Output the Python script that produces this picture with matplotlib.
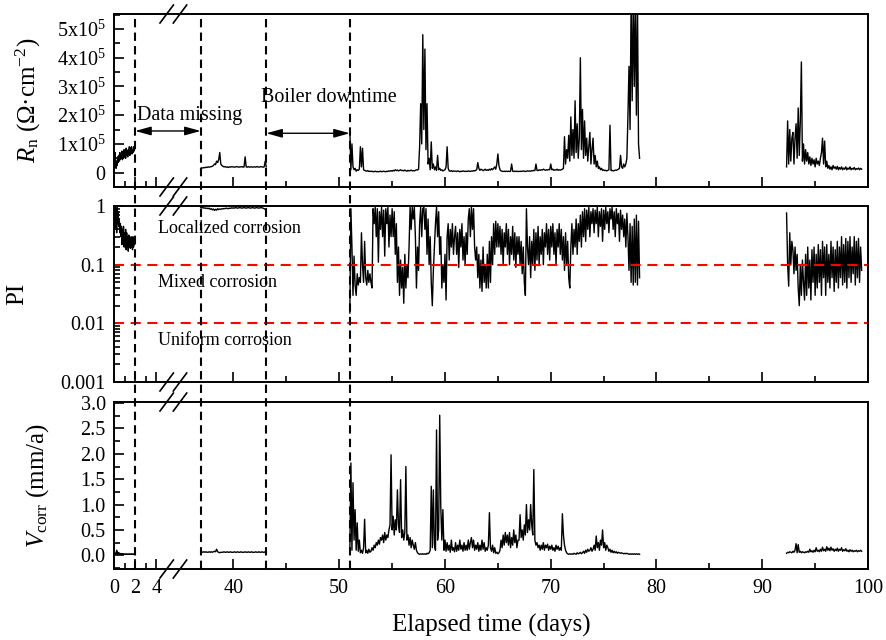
import numpy as np
import matplotlib
matplotlib.use("Agg")
import matplotlib.pyplot as plt
from matplotlib.ticker import FixedLocator, MultipleLocator, FuncFormatter, NullFormatter
from matplotlib.patches import ArrowStyle

plt.rcParams['font.family'] = ['Liberation Serif', 'DejaVu Serif']
plt.rcParams['mathtext.fontset'] = 'custom'
plt.rcParams['mathtext.rm'] = 'Liberation Serif'
plt.rcParams['mathtext.it'] = 'Liberation Serif:italic'

# --- data (days, Rn in 1e5 Ohm cm-2, PI, Vcorr mm/a) ---
# segment A: 0-2 d, step 0.05 d ; B: 36.9-43.1 d ; C: 51.0-78.4 d ; D: 92.3-99.4 d, step 0.1 d
t0_a, step_a = 0.0, 0.05
t0_b, t0_c, t0_d, step = 36.9, 51.0, 92.3, 0.1

rn_a = [0.6, 0.45, 0.7, 0.3, 0.15, 0.4, 0.25, 0.55, 0.35, 0.6,
        0.4, 0.7, 0.45, 0.6, 0.5, 0.75, 0.45, 0.65, 0.5, 0.8,
        0.55, 0.7, 0.5, 0.85, 0.6, 0.75, 0.55, 0.8, 0.65, 0.9,
        0.6, 0.85, 0.7, 0.9, 0.65, 0.8, 0.7, 0.9, 0.75, 0.85, 0.9]
rn_b = [0.15,
        0.17, 0.16, 0.18, 0.17, 0.19, 0.18, 0.2, 0.19, 0.2, 0.21,
        0.22, 0.25, 0.3, 0.28, 0.4, 0.35, 0.45, 0.7, 0.3, 0.25,
        0.22, 0.2, 0.21, 0.19, 0.2, 0.18, 0.2, 0.19, 0.21, 0.2,
        0.2, 0.19, 0.2, 0.21, 0.2, 0.19, 0.2, 0.2, 0.21, 0.19,
        0.2, 0.55, 0.2, 0.19, 0.21, 0.19, 0.2, 0.2, 0.19, 0.2,
        0.2, 0.19, 0.21, 0.2, 0.19, 0.2, 0.21, 0.2, 0.19, 0.2,
        0.4, 0.2]
rn_c = [1.5, 0.1, 1.0, 0.2, 0.1, 0.15, 0.05, 0.1, 0.08, 0.12,
        0.9, 0.2, 0.85, 0.1, 0.08, 0.06, 0.05, 0.07, 0.04, 0.05,
        0.04, 0.05, 0.03, 0.04, 0.05, 0.03, 0.04, 0.03, 0.04, 0.05,
        0.03, 0.04, 0.05, 0.04, 0.03, 0.05, 0.04, 0.06, 0.05, 0.07,
        0.05, 0.08, 0.06, 0.1, 0.07, 0.09, 0.06, 0.08, 0.1, 0.07,
        0.08, 0.06, 0.09, 0.07, 0.05, 0.08, 0.06, 0.07, 0.09, 0.06,
        0.07, 0.06, 0.08, 0.1, 0.09, 0.12, 0.9, 2.4, 1.0, 4.8,
        1.5, 4.3, 0.8, 2.4, 0.3, 0.5, 0.1, 1.07, 0.15, 0.3,
        0.1, 0.2, 0.08, 0.6, 0.1, 0.15, 0.08, 0.1, 0.06, 0.08,
        0.1, 0.2, 0.9, 0.15, 0.06, 0.05, 0.07, 0.04, 0.06, 0.05,
        0.05, 0.04, 0.06, 0.05, 0.03, 0.05, 0.04, 0.06, 0.05, 0.04,
        0.05, 0.04, 0.06, 0.05, 0.04, 0.06, 0.05, 0.07, 0.06, 0.08,
        0.1, 0.35, 0.15, 0.08, 0.12, 0.1, 0.07, 0.09, 0.12, 0.08,
        0.1, 0.08, 0.12, 0.09, 0.14, 0.1, 0.15, 0.2, 0.12, 0.3,
        0.65, 0.25, 0.1, 0.06, 0.05, 0.04, 0.05, 0.04, 0.05, 0.04,
        0.05, 0.04, 0.05, 0.3, 0.05, 0.04, 0.05, 0.04, 0.05, 0.04,
        0.04, 0.05, 0.04, 0.05, 0.06, 0.05, 0.04, 0.05, 0.06, 0.05,
        0.06, 0.05, 0.07, 0.06, 0.08, 0.07, 0.3, 0.08, 0.07, 0.1,
        0.08, 0.1, 0.09, 0.12, 0.1, 0.08, 0.1, 0.09, 0.11, 0.1,
        0.3, 0.1, 0.12, 0.08, 0.1, 0.09, 0.12, 0.08, 0.1, 0.09,
        0.1, 0.12, 0.15, 1.25, 0.3, 0.8, 0.5, 1.3, 0.4, 1.94,
        0.6, 1.5, 0.5, 2.5, 0.7, 1.7, 0.5, 1.2, 4.0, 0.8,
        2.2, 0.5, 1.8, 0.6, 1.2, 0.4, 0.9, 1.4, 0.3, 0.8,
        1.2, 0.3, 0.6, 0.2, 0.4, 0.15, 0.2, 0.1, 0.15, 0.08,
        0.1, 0.07, 0.08, 0.06, 0.08, 0.1, 1.65, 0.07, 0.08, 0.06,
        0.07, 0.09, 0.08, 0.1, 0.12, 0.15, 0.6, 0.2, 0.15, 0.3,
        0.2, 0.3, 0.5, 2.0, 3.7, 1.5, 6.0, 2.5, 6.0, 3.0,
        6.0, 2.0, 6.0, 1.0, 0.5]
rn_d = [0.2, 1.8, 0.3, 1.5, 0.4, 1.2, 1.4,
        0.3, 1.2, 1.7, 0.5, 2.25, 0.6, 1.8, 3.85, 0.4, 1.0,
        0.3, 0.8, 0.4, 0.7, 0.3, 0.55, 0.25, 0.5, 0.3, 0.45,
        0.2, 0.5, 0.3, 0.4, 0.25, 0.5, 0.7, 1.2, 0.3, 1.1,
        0.2, 0.4, 0.15, 0.25, 0.12, 0.2, 0.1, 0.25, 0.15, 0.2,
        0.12, 0.22, 0.1, 0.18, 0.12, 0.2, 0.1, 0.16, 0.12, 0.2,
        0.1, 0.16, 0.12, 0.2, 0.1, 0.15, 0.12, 0.18, 0.1, 0.14,
        0.12, 0.16, 0.1, 0.15, 0.12]

pi_a = [0.95, 0.6, 0.98, 0.4, 0.9, 0.35, 0.95, 0.5, 0.8, 0.45,
        0.6, 0.35, 0.5, 0.3, 0.45, 0.22, 0.4, 0.25, 0.45, 0.2,
        0.35, 0.2, 0.4, 0.18, 0.35, 0.2, 0.3, 0.17, 0.32, 0.2,
        0.3, 0.19, 0.28, 0.2, 0.3, 0.18, 0.27, 0.2, 0.3, 0.22, 0.25]
pi_b = [0.95,
        0.93, 0.94, 0.92, 0.93, 0.91, 0.92, 0.9, 0.92, 0.88, 0.9,
        0.86, 0.89, 0.84, 0.88, 0.85, 0.9, 0.87, 0.89, 0.88, 0.9,
        0.89, 0.91, 0.9, 0.92, 0.91, 0.9, 0.92, 0.91, 0.93, 0.92,
        0.93, 0.92, 0.94, 0.93, 0.92, 0.93, 0.94, 0.93, 0.92, 0.93,
        0.94, 0.93, 0.92, 0.93, 0.94, 0.93, 0.92, 0.93, 0.94, 0.93,
        0.92, 0.93, 0.94, 0.93, 0.92, 0.93, 0.94, 0.93, 0.92, 0.9,
        0.88, 0.9]
pi_c = [0.015, 0.9, 0.2, 0.03, 0.14, 0.045, 0.03, 0.07, 0.045, 0.06,
        0.05, 0.35, 0.1, 0.05, 0.25, 0.06, 0.045, 0.08, 0.05, 0.07,
        0.05, 0.04, 0.9, 0.5, 0.95, 0.3, 0.9, 0.11, 0.8, 0.4,
        0.95, 0.3, 0.85, 0.14, 0.9, 0.5, 0.95, 0.2, 0.7, 0.3,
        0.9, 0.3, 0.8, 0.15, 0.5, 0.05, 0.2, 0.03, 0.12, 0.04,
        0.09, 0.022, 0.15, 0.04, 0.1, 0.06, 0.2, 0.95, 0.4, 0.95,
        0.6, 0.95, 0.3, 0.04, 0.2, 0.08, 0.5, 0.95, 0.3, 0.9,
        0.95, 0.4, 0.9, 0.15, 0.6, 0.1, 0.3, 0.05, 0.02, 0.08,
        0.2, 0.5, 0.95, 0.3, 0.8, 0.15, 0.3, 0.04, 0.1, 0.05,
        0.15, 0.025, 0.3, 0.5, 0.12, 0.4, 0.2, 0.5, 0.15, 0.3,
        0.45, 0.15, 0.35, 0.09, 0.4, 0.2, 0.5, 0.12, 0.3, 0.1,
        0.35, 0.15, 0.6, 0.9, 0.3, 0.95, 0.4, 0.9, 0.2, 0.12,
        0.2, 0.06, 0.15, 0.04, 0.12, 0.035, 0.2, 0.05, 0.1, 0.04,
        0.15, 0.04, 0.25, 0.05, 0.3, 0.1, 0.5, 0.15, 0.55, 0.2,
        0.5, 0.2, 0.45, 0.15, 0.4, 0.1, 0.35, 0.2, 0.5, 0.15,
        0.4, 0.1, 0.3, 0.15, 0.45, 0.12, 0.35, 0.09, 0.3, 0.15,
        0.3, 0.1, 0.25, 0.07, 0.2, 0.05, 0.03, 0.9, 0.2, 0.1,
        0.3, 0.06, 0.25, 0.1, 0.4, 0.08, 0.35, 0.12, 0.45, 0.1,
        0.3, 0.15, 0.4, 0.1, 0.35, 0.2, 0.5, 0.15, 0.4, 0.12,
        0.45, 0.2, 0.5, 0.15, 0.35, 0.1, 0.4, 0.2, 0.5, 0.15,
        0.4, 0.12, 0.3, 0.08, 0.35, 0.1, 0.25, 0.06, 0.04, 0.2,
        0.5, 0.15, 0.4, 0.2, 0.6, 0.15, 0.5, 0.25, 0.7, 0.2,
        0.8, 0.3, 0.9, 0.25, 0.85, 0.4, 0.95, 0.3, 0.8, 0.5,
        0.9, 0.35, 0.85, 0.5, 0.95, 0.3, 0.8, 0.45, 0.9, 0.25,
        0.85, 0.4, 0.95, 0.5, 0.8, 0.35, 0.9, 0.6, 0.95, 0.4,
        0.8, 0.3, 0.9, 0.5, 0.75, 0.25, 0.85, 0.4, 0.7, 0.3,
        0.6, 0.2, 0.75, 0.3, 0.08, 0.5, 0.05, 0.45, 0.045, 0.6,
        0.05, 0.7, 0.045, 0.55, 0.06]
pi_d = [0.76, 0.1, 0.043, 0.35, 0.1, 0.25, 0.18,
        0.07, 0.2, 0.08, 0.15, 0.04, 0.02, 0.1, 0.03, 0.12, 0.05,
        0.025, 0.15, 0.03, 0.2, 0.04, 0.12, 0.025, 0.18, 0.05, 0.2,
        0.03, 0.15, 0.04, 0.22, 0.05, 0.18, 0.03, 0.25, 0.06, 0.2,
        0.03, 0.22, 0.05, 0.15, 0.04, 0.25, 0.06, 0.2, 0.035, 0.18,
        0.05, 0.25, 0.04, 0.2, 0.06, 0.3, 0.045, 0.22, 0.05, 0.28,
        0.04, 0.25, 0.06, 0.3, 0.05, 0.2, 0.07, 0.3, 0.045, 0.25,
        0.06, 0.28, 0.05, 0.2, 0.08]

v_a = [0.03, 0.05, 0.02, 0.04, 0.03, 0.1, 0.02, 0.06, 0.03, 0.05,
       0.02, 0.04, 0.03, 0.02, 0.03, 0.02, 0.03, 0.02, 0.03, 0.02,
       0.02, 0.03, 0.02, 0.02, 0.03, 0.02, 0.02, 0.03, 0.02, 0.02,
       0.03, 0.02, 0.02, 0.03, 0.02, 0.02, 0.03, 0.02, 0.02, 0.03, 0.02]
v_b = [0.07,
       0.07, 0.06, 0.07, 0.06, 0.07, 0.06, 0.06, 0.07, 0.06, 0.07,
       0.06, 0.07, 0.08, 0.07, 0.12, 0.07, 0.06, 0.05, 0.06, 0.06,
       0.06, 0.07, 0.06, 0.06, 0.07, 0.06, 0.06, 0.07, 0.06, 0.06,
       0.06, 0.07, 0.06, 0.06, 0.07, 0.06, 0.06, 0.07, 0.06, 0.06,
       0.06, 0.07, 0.06, 0.06, 0.07, 0.06, 0.06, 0.07, 0.06, 0.06,
       0.06, 0.07, 0.06, 0.06, 0.07, 0.06, 0.06, 0.07, 0.06, 0.06,
       0.07, 0.06]
v_c = [0.05, 1.82, 0.1, 1.43, 0.3, 0.9, 0.1, 0.64, 0.08, 0.3,
       0.05, 0.1, 0.04, 0.15, 0.71, 0.05, 0.1, 0.04, 0.12, 0.06,
       0.08, 0.15, 0.1, 0.2, 0.15, 0.25, 0.2, 0.3, 0.22, 0.35,
       0.3, 0.4, 0.25, 0.45, 0.3, 0.4, 0.35, 0.5, 0.6, 1.98,
       0.5, 0.77, 0.4, 0.7, 0.5, 1.29, 0.6, 0.45, 1.49, 0.35,
       0.5, 0.3, 0.45, 1.75, 0.3, 0.4, 0.2, 0.35, 0.15, 0.3,
       0.2, 0.12, 0.25, 0.1, 0.05, 0.03, 0.02, 0.03, 0.02, 0.03,
       0.02, 0.03, 0.02, 0.04, 0.03, 0.05, 0.1, 1.36, 0.15, 1.29,
       0.2, 0.1, 2.47, 0.3, 0.5, 2.76, 0.97, 0.3, 0.9, 0.1,
       0.3, 0.08, 0.25, 0.1, 0.2, 0.06, 0.3, 0.1, 0.15, 0.07,
       0.25, 0.08, 0.2, 0.1, 0.3, 0.12, 0.2, 0.08, 0.25, 0.1,
       0.2, 0.1, 0.3, 0.12, 0.25, 0.35, 0.15, 0.3, 0.1, 0.2,
       0.12, 0.25, 0.08, 0.2, 0.1, 0.3, 0.12, 0.25, 0.08, 0.15,
       0.1, 0.2, 0.84, 0.15, 0.08, 0.2, 0.05, 0.15, 0.04, 0.06,
       0.03, 0.05, 0.1, 0.3, 0.15, 0.4, 0.2, 0.45, 0.25, 0.4,
       0.2, 0.45, 0.15, 0.35, 0.2, 0.5, 0.25, 0.4, 0.15, 0.3,
       0.3, 0.8, 0.35, 0.5, 0.3, 0.6, 0.4, 1.0, 0.45, 0.7,
       0.5, 1.0, 0.6, 0.4, 1.69, 0.3, 0.2, 0.25, 0.15, 0.2,
       0.1, 0.2, 0.12, 0.25, 0.1, 0.2, 0.15, 0.22, 0.1, 0.18,
       0.12, 0.2, 0.1, 0.15, 0.08, 0.2, 0.12, 0.18, 0.1, 0.15,
       0.1, 0.82, 0.4, 0.2, 0.1, 0.05, 0.03, 0.02, 0.03, 0.02,
       0.03, 0.02, 0.04, 0.03, 0.02, 0.05, 0.03, 0.04, 0.06, 0.03,
       0.05, 0.08, 0.04, 0.1, 0.06, 0.12, 0.08, 0.1, 0.15, 0.08,
       0.12, 0.2, 0.1, 0.38, 0.15, 0.25, 0.1, 0.3, 0.2, 0.5,
       0.15, 0.25, 0.1, 0.2, 0.15, 0.08, 0.12, 0.06, 0.1, 0.05,
       0.08, 0.05, 0.07, 0.04, 0.06, 0.05, 0.04, 0.05, 0.04, 0.03,
       0.04, 0.03, 0.04, 0.03, 0.02, 0.03, 0.02, 0.03, 0.02, 0.03,
       0.02, 0.03, 0.02, 0.03, 0.02]
v_d = [0.04, 0.06, 0.05, 0.07, 0.06, 0.05, 0.08,
       0.06, 0.1, 0.23, 0.05, 0.21, 0.06, 0.08, 0.05, 0.07, 0.06,
       0.05, 0.07, 0.06, 0.08, 0.06, 0.12, 0.07, 0.09, 0.06, 0.1,
       0.07, 0.15, 0.08, 0.1, 0.07, 0.12, 0.08, 0.16, 0.09, 0.12,
       0.08, 0.17, 0.1, 0.14, 0.09, 0.16, 0.1, 0.13, 0.08, 0.12,
       0.09, 0.14, 0.08, 0.12, 0.1, 0.15, 0.08, 0.11, 0.09, 0.13,
       0.08, 0.1, 0.07, 0.11, 0.08, 0.1, 0.07, 0.09, 0.08, 0.1,
       0.07, 0.09, 0.08, 0.1, 0.08]

event_days = [2.0, 36.9, 43.1, 51.0]

# broken x axis: 5.6 .. 34.3 days squeezed out
A, B = 5.6, 34.3
GAP = B - A
EPS = 1e-3


def fwd(x):
    x = np.asarray(x, dtype=float)
    return np.where(x <= A, x, np.where(x >= B, x - GAP, A + (x - A) * EPS))


def inv(y):
    y = np.asarray(y, dtype=float)
    return np.where(y <= A, y, np.where(y >= A + GAP * EPS, y + GAP, A + (y - A) / EPS))


def times(t0, dt, vals):
    return t0 + dt * np.arange(len(vals))


fig = plt.figure(figsize=(8.86, 6.4), dpi=100)
L, W = 114 / 886, 754 / 886
ax1 = fig.add_axes([L, 0.7078, W, 0.2703])
ax2 = fig.add_axes([L, 0.4031, W, 0.2750])
ax3 = fig.add_axes([L, 0.1109, W, 0.2609])
axes = [ax1, ax2, ax3]

panels = [(ax1, [rn_a, rn_b, rn_c, rn_d], 1e5),
          (ax2, [pi_a, pi_b, pi_c, pi_d], 1.0),
          (ax3, [v_a, v_b, v_c, v_d], 1.0)]
for ax, segs, scale in panels:
    for (t0, dt), vals in zip([(t0_a, step_a), (t0_b, step), (t0_c, step), (t0_d, step)], segs):
        ax.plot(times(t0, dt, vals), np.array(vals) * scale, color='k', lw=1.0)

for ax in axes:
    ax.set_xscale('function', functions=(fwd, inv))
    ax.set_xlim(0, 100)
    ax.xaxis.set_major_locator(FixedLocator([0, 2, 4, 40, 50, 60, 70, 80, 90, 100]))
    ax.xaxis.set_minor_locator(FixedLocator([1, 3, 45, 55, 65, 75, 85, 95]))
    ax.xaxis.set_major_formatter(FuncFormatter(lambda v, p: f'{v:.0f}'))
    ax.xaxis.set_minor_formatter(NullFormatter())
    ax.tick_params(which='both', direction='in', top=False, right=False,
                   labelsize=14.5, width=1.2)
    ax.tick_params(which='major', length=7)
    ax.tick_params(which='minor', length=4)
    ax.tick_params(axis='y', pad=6)
    ax.tick_params(axis='x', pad=7)
    for s in ax.spines.values():
        s.set_linewidth(1.4)

ax1.tick_params(labelbottom=False)
ax2.tick_params(labelbottom=False)

# top panel: Rn
ax1.set_ylim(-0.5e5, 5.52e5)
ax1.yaxis.set_major_locator(MultipleLocator(1e5))
ax1.yaxis.set_minor_locator(MultipleLocator(0.5e5))
ax1.yaxis.set_major_formatter(FuncFormatter(
    lambda v, p: '0' if abs(v) < 1 else f'{v / 1e5:.0f}x10$^{{5}}$'))
ax1.set_ylabel(r'$R_{\rm n}$ (Ω·cm$^{-2}$)', fontsize=18, va='center')
ax1.yaxis.set_label_coords(-0.113, 0.5)

ax1.annotate('', xy=(36.9, 1.45e5), xytext=(2.0, 1.45e5),
             arrowprops=dict(arrowstyle=ArrowStyle('<|-|>', head_length=0.8, head_width=0.22),
                             color='k', lw=1, mutation_scale=12, shrinkA=0, shrinkB=0))
ax1.annotate('', xy=(51.0, 1.37e5), xytext=(43.1, 1.37e5),
             arrowprops=dict(arrowstyle=ArrowStyle('<|-|>', head_length=0.8, head_width=0.22),
                             color='k', lw=1, mutation_scale=12, shrinkA=0, shrinkB=0))
ax1.text(2.17, 1.83e5, 'Data missing', fontsize=14.5, va='baseline')
ax1.text(42.6, 2.46e5, 'Boiler downtime', fontsize=14.5, va='baseline')

# middle panel: PI
ax2.set_yscale('log')
ax2.set_ylim(1e-3, 1)
ax2.yaxis.set_major_formatter(FuncFormatter(lambda v, p: f'{v:g}'))
ax2.yaxis.set_minor_formatter(NullFormatter())
ax2.axhline(0.1, color='red', lw=1.5, dashes=(4.8, 3.2))
ax2.axhline(0.01, color='red', lw=1.5, dashes=(4.8, 3.2))
ax2.text(4.13, 0.343, 'Localized corrosion', fontsize=13, va='baseline')
ax2.text(4.13, 0.041, 'Mixed corrosion', fontsize=13, va='baseline')
ax2.text(4.13, 0.0043, 'Uniform corrosion', fontsize=13, va='baseline')
ax2.set_ylabel('PI', fontsize=18, va='center')
ax2.yaxis.set_label_coords(-0.129, 0.5)

# bottom panel: Vcorr
ax3.set_ylim(-0.27, 3.02)
ax3.yaxis.set_major_locator(MultipleLocator(0.5))
ax3.yaxis.set_minor_locator(MultipleLocator(0.25))
ax3.yaxis.set_major_formatter(FuncFormatter(lambda v, p: f'{v:.1f}'))
ax3.set_ylabel(r'$V_{\rm corr}$ (mm/a)', fontsize=18, va='center')
ax3.yaxis.set_label_coords(-0.101, 0.5)
ax3.set_xlabel('Elapsed time (days)', fontsize=18, va='center')
ax3.xaxis.set_label_coords(0.5, -0.335)

# break marks "//" on every spine
for ax, hpx in zip(axes, [173, 176, 167]):
    dy = 9 / hpx
    dx = 6.7 / 754
    for cx in [(166.7 - 114) / 754, (180 - 114) / 754]:
        for y in (0, 1):
            ax.plot([cx - dx, cx + dx], [y - dy, y + dy], transform=ax.transAxes,
                    color='k', lw=1.2, clip_on=False)

# vertical dashed event lines through all panels
over = fig.add_axes([L, 0.1109, W, 0.978 - 0.1109])
over.set_xscale('function', functions=(fwd, inv))
over.set_xlim(0, 100)
over.set_ylim(0, 1)
over.axis('off')
for d in event_days:
    over.axvline(d, color='k', lw=1.5, dashes=(4, 2.5))

fig.savefig('out.png', dpi=100)
